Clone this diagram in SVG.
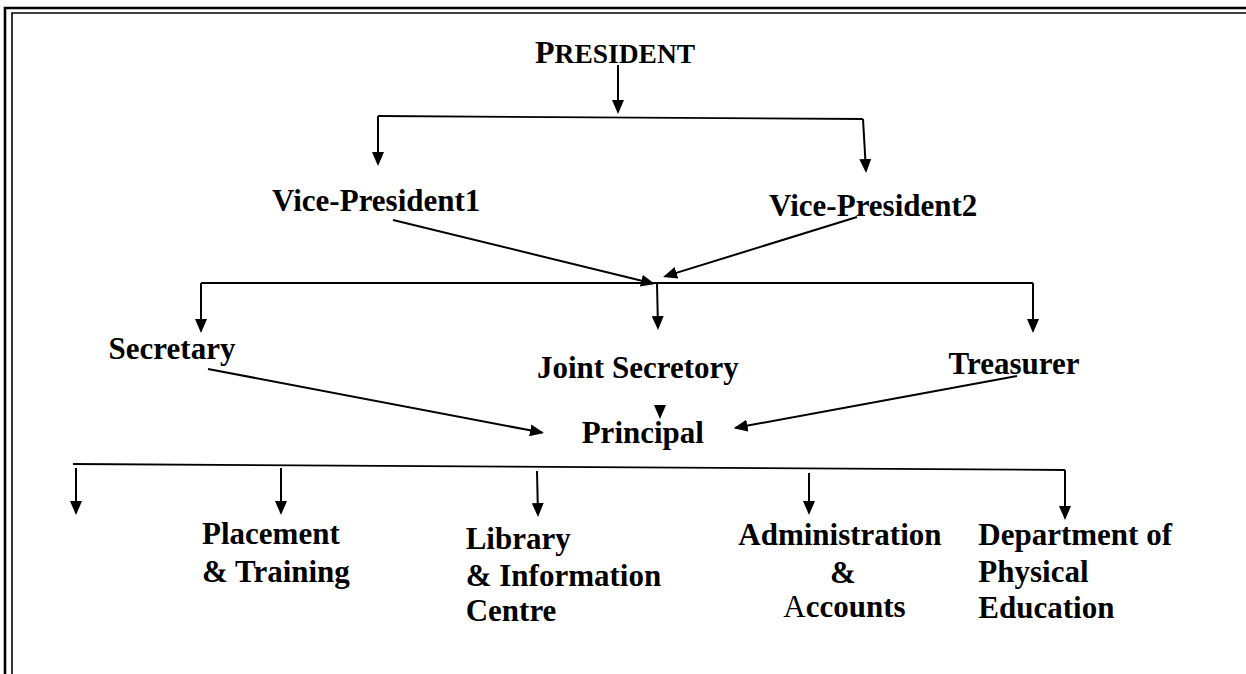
<svg xmlns="http://www.w3.org/2000/svg" width="1246" height="674" viewBox="0 0 1246 674">
<defs>
<marker id="ah" viewBox="0 0 14 12" refX="12" refY="6" markerWidth="14" markerHeight="12" orient="auto" markerUnits="userSpaceOnUse">
<path d="M0,0 L14,6 L0,12 z" fill="#000"/>
</marker>
<style>
.t{font-family:"Liberation Serif","Times New Roman",serif;font-weight:bold;font-size:31px;fill:#000}
.n{font-weight:normal}
.ln{fill:none;stroke:#000;stroke-width:1.8}
.ar{fill:none;stroke:#000;stroke-width:2;marker-end:url(#ah)}
.b{fill:none;stroke:#000}
</style>
</defs>
<rect width="1246" height="674" fill="#fff"/>
<g id="border">
<path class="b" stroke-width="2.6" d="M5,674 V8 H1246"/>
<path class="b" stroke-width="1.6" d="M12,674 V13 H1246"/>
</g>
<g id="connectors">
<path class="ar" d="M618,65 L618,112"/>
<path class="ln" d="M378,116 L863,119"/>
<path class="ar" d="M378,116 L378,164"/>
<path class="ar" d="M863,119 L866,171"/>
<path class="ar" d="M393,220 L653,283.5"/>
<path class="ar" d="M857,217 L665,276.4"/>
<path class="ln" d="M201,283 L1033,283"/>
<path class="ar" d="M201,283 L201,331"/>
<path class="ar" d="M657,283 L658,328"/>
<path class="ar" d="M1033,283 L1033,331"/>
<path class="ar" d="M660,405 L660,417"/>
<path class="ar" d="M208,369 L542,432.6"/>
<path class="ar" d="M1017,376 L735.6,427.8"/>
<path class="ln" d="M73,464 L1065,470"/>
<path class="ar" d="M76,468 L76,513"/>
<path class="ar" d="M281,468 L281,513"/>
<path class="ar" d="M537,471 L538,515"/>
<path class="ar" d="M809,473 L809,513"/>
<path class="ar" d="M1065,470 L1065,518"/>
</g>
<g id="president"><text class="t" x="535" y="63"><tspan font-size="32">P</tspan><tspan font-size="27.5">RESIDENT</tspan></text></g>
<g id="vp1"><text class="t" x="272" y="211">Vice-President1</text></g>
<g id="vp2"><text class="t" x="769" y="216">Vice-President2</text></g>
<g id="secretary"><text class="t" x="108.6" y="358.6">Secretary</text></g>
<g id="joint-secretory"><text class="t" x="537" y="378">Joint Secretory</text></g>
<g id="treasurer"><text class="t" x="948.6" y="373.6">Treasurer</text></g>
<g id="principal"><text class="t" x="581.7" y="443.3">Principal</text></g>
<g id="placement"><text class="t" x="202" y="544.3">Placement</text><text class="t" x="202" y="581.7">&amp; Training</text></g>
<g id="library"><text class="t" x="465.7" y="549">Library</text><text class="t" x="465.7" y="585.7">&amp; Information</text><text class="t" x="465.7" y="621">Centre</text></g>
<g id="administration"><text class="t" x="738.3" y="545">Administration</text><text class="t" x="830" y="582.7">&amp;</text><text class="t" x="783.3" y="617"><tspan class="n">A</tspan>ccounts</text></g>
<g id="physical-education"><text class="t" x="978.3" y="545">Department of</text><text class="t" x="978.3" y="581.7">Physical</text><text class="t" x="978.3" y="618.3">Education</text></g>
</svg>
